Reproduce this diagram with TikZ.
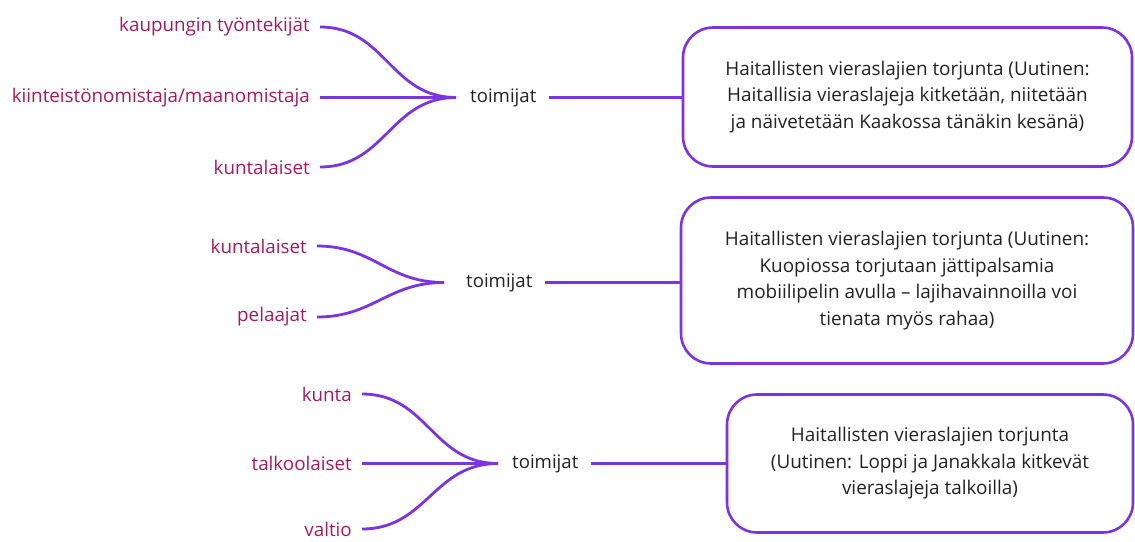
\documentclass[tikz,border=0pt]{standalone}
\usepackage{fontspec}
\setmainfont{Open Sans}
\definecolor{actor}{RGB}{163,26,92}
\definecolor{link}{RGB}{122,52,226}
\definecolor{hub}{RGB}{34,34,34}
\tikzset{
  actorlabel/.style={anchor=east, text=actor, font=\fontsize{18.8}{22}\selectfont, inner xsep=10pt, inner ysep=0pt},
  hublabel/.style={anchor=west, text=hub, font=\fontsize{18.6}{22}\selectfont, inner xsep=12pt, inner ysep=0pt},
  newsbox/.style={draw=link, line width=2.6pt, rounded corners=30pt, align=center,
    text=hub, font=\fontsize{18.9}{26.5}\selectfont, inner sep=0pt},
  wire/.style={draw=link, line width=2.8pt},
  fan/.style={wire, out=0, in=180, looseness=1.1}
}
\begin{document}
\begin{tikzpicture}[x=1pt, y=-1pt]
\useasboundingbox (0,0) rectangle (1135,541);

% ---- first chain
\node[actorlabel] (a1) at (320,27) {kaupungin työntekijät};
\node[actorlabel] (a2) at (320,97.5) {kiinteistönomistaja/maanomistaja};
\node[actorlabel] (a3) at (320,167) {kuntalaiset};
\coordinate (j1) at (456,97.5);
\node[hublabel] (t1) at (458,97.5) {toimijat};
\node[newsbox, minimum width=449pt, minimum height=139pt] (b1) at (907.5,97)
  {Haitallisten vieraslajien torjunta (Uutinen:\\
   Haitallisia vieraslajeja kitketään, niitetään\\
   ja näivetetään Kaakossa tänäkin kesänä)};
\draw[fan] (a1.east) to (j1);
\draw[wire] (a2.east) -- (j1);
\draw[fan] (a3.east) to (j1);
\draw[wire] (t1.east) -- (t1.east -| b1.west);

% ---- second chain
\node[actorlabel] (c1) at (317,246) {kuntalaiset};
\node[actorlabel] (c2) at (317,317) {pelaajat};
\coordinate (j2) at (444,282.5);
\node[hublabel] (t2) at (454,282.5) {toimijat};
\node[newsbox, minimum width=452pt, minimum height=166pt] (b2) at (907,280.5)
  {Haitallisten vieraslajien torjunta (Uutinen:\\
   Kuopiossa torjutaan jättipalsamia\\
   mobiilipelin avulla – lajihavainnoilla voi\\
   tienata myös rahaa)};
\draw[fan] (c1.east) to (j2);
\draw[fan] (c2.east) to (j2);
\draw[wire] (t2.east) -- (t2.east -| b2.west);

% ---- third chain
\node[actorlabel] (d1) at (362,394) {kunta};
\node[actorlabel] (d2) at (362,463.5) {talkoolaiset};
\node[actorlabel] (d3) at (362,529) {valtio};
\coordinate (j3) at (498,463.5);
\node[hublabel] (t3) at (500,463.5) {toimijat};
\node[newsbox, minimum width=406pt, minimum height=138pt] (b3) at (930,463.5)
  {Haitallisten vieraslajien torjunta\\
   (Uutinen: Loppi ja Janakkala kitkevät\\
   vieraslajeja talkoilla)};
\draw[fan] (d1.east) to (j3);
\draw[wire] (d2.east) -- (j3);
\draw[fan] (d3.east) to (j3);
\draw[wire] (t3.east) -- (t3.east -| b3.west);
\end{tikzpicture}
\end{document}
